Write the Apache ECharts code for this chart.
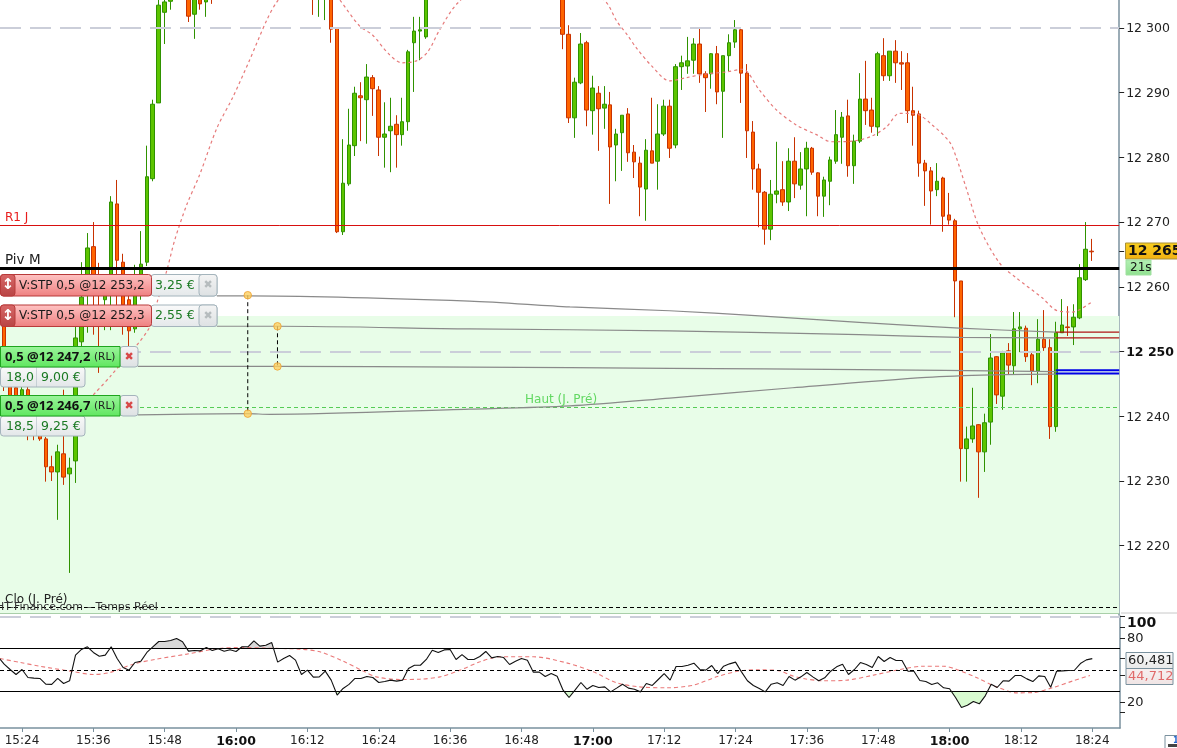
<!DOCTYPE html>
<html>
<head>
<meta charset="utf-8">
<style>html,body{margin:0;padding:0;background:#fff;overflow:hidden}#c{width:1177px;height:748px}</style>
<script src="https://cdn.jsdelivr.net/npm/echarts@6/dist/echarts.min.js"></script>
</head>
<body>
<div id="c"></div>
<script>
// minute-of-day of the first candle (15:20), one candle per minute
const firstMinute = 920;
const opens = [null,12254.6,12247.2,12244.4,12239.4,12244.1,12241,12238.7,12236.5,12232.2,
12231.4,12234.2,12231.1,12233.1,12251.5,12259.5,12266.2,12261.8,12258,12259.5,
12272.8,12263.8,12258,12253.5,12258.7,12263.8,12276.7,12288.4,12302.4,12304.1,
null,null,12306.6,12302.1,12305.1,12304,12305.8,null,null,null,
null,null,null,null,null,null,null,null,null,null,
null,null,null,12307.4,12305.1,12304.8,12305.5,12300,12268.5,12275.9,
12281.8,12289.5,12288.9,12292.3,12290.4,12283.1,12284.1,12285.1,12283.5,12285.5,
12297.7,12299.5,12298.6,null,null,null,null,null,null,null,
null,null,null,null,null,null,null,null,null,null,
null,null,null,null,null,12306.6,12299,12286.1,12291.5,12297.7,
12287.2,12289.9,12287.6,12288.1,12281.9,12283.8,12286.7,12280.8,12279.1,12275.1,
12281,12279.4,12283.6,12287.9,12281.9,12294,12294.1,12295,12297.5,12292.9,
12292.9,12296,12290.2,12295.7,12297.8,12299.7,12293,12283.9,12278.2,12274.6,
12268.9,12274.3,12275,12273.1,12279.4,12275.7,12278.2,12281.4,12277.6,12274,
12276.3,12279.4,12283.1,12286.4,12278.7,12282.5,12289,12287.3,12284.7,12295.7,
12292.6,12296.4,12294.6,12294.6,12287.2,12286.7,12279.1,12277.9,12275,12276.8,
12271.1,12270.2,12260.9,12235,12236.5,12238.7,12234.5,12239.1,12249.2,12243.1,
12250.1,12247.8,12253.5,12253.6,12249.5,12247,12251.9,12250.6,12238.4,12252.9,
12253.8,12253.8,12255.2,12261.1,12265.5];
const closes = [null,12246.4,12242.8,12241,12244.1,12240.2,12238.7,12236.5,12232.2,12231.4,
12234.5,12230.6,12232,12252.1,12258.4,12266,12259.5,12258.7,12261.1,12273.1,
12264.1,12257.2,12253.2,12258.7,12263.5,12277,12288.2,12303.5,12304,12305.2,
null,null,12301.8,12305.5,12303.7,12305.2,12304.9,null,null,null,
null,null,null,null,null,null,null,null,null,null,
null,null,null,12305.2,12306.6,12306.2,12299.8,12268.5,12276,12281.9,
12289.9,12289.2,12292.4,12290.6,12283.1,12283.6,12284.8,12283.5,12285.5,12296.3,
12299.5,12299.7,12305.5,null,null,null,null,null,null,null,
null,null,null,null,null,null,null,null,null,null,
null,null,null,null,null,12299,12286.1,12291.6,12297.5,12287.3,
12290.7,12287.5,12288.2,12281.6,12283.6,12286.5,12280.7,12279.3,12275.4,12281.1,
12279.1,12283.6,12287.9,12281.4,12294,12294.6,12294.9,12297.5,12292.9,12292.3,
12296,12290.1,12295.7,12297.7,12299.7,12293,12284.1,12278.2,12274.6,12268.9,
12274.3,12274.8,12273.1,12279.4,12275.9,12278.2,12281.4,12277.7,12274,12276.5,
12279.6,12283.5,12286.2,12278.7,12282.5,12289,12287.2,12284.8,12296,12292.6,
12296.4,12294.6,12294.4,12287.2,12286.5,12279.1,12277.9,12274.8,12276.3,12270.9,
12270.3,12260.9,12235,12236.5,12238.5,12234.5,12239,12249,12243.3,12249.8,
12247.9,12253.5,12253.8,12249.2,12247,12251.9,12250.6,12238.4,12252.9,12254.1,
12253.7,12255.3,12261.4,12265.8,12265.4];
const lows = [null,12243.9,12239.4,12237.9,12238.2,12236.3,12236.3,12236.2,12229.9,12230,
12224,12229.4,12215.8,12229.7,12250.2,12252.9,12252.6,12246.7,12253.3,12253.3,
12257.2,12252.6,12250.7,12252.9,12258,12263.2,12276.3,12288.4,12297.5,12302.8,
null,null,12300.9,12298.3,12302.8,12301.7,12303.7,null,null,null,
null,null,null,null,null,null,null,null,null,null,
null,null,null,12302,12301.7,12301.2,12297.7,12268.3,12268,12275.6,
12280.2,12282.5,12282.1,12286.4,12280.2,12278.4,12277.7,12278.4,12281.8,12284.1,
12290.1,12295,12298.3,null,null,null,null,null,null,null,
null,null,null,null,null,null,null,null,null,null,
null,null,null,null,null,12296.7,12285.3,12283,12291.3,12284.8,
12283.5,12281,12284.4,12272.8,12276.3,12277.9,12279.3,12276.8,12270.9,12270.2,
12279.1,12275,12283.3,12279.9,12281.4,12290.4,12292.9,12292.9,12291.5,12287,
12290.6,12288.2,12283,12293.3,12296.9,12288.4,12279.9,12275,12269.2,12266.5,
12267.2,12272.9,12272.5,12271.7,12273.7,12275,12270.9,12277.3,12270.9,12270.8,
12272.6,12279,12279,12277,12275.9,12282.2,12285,12283.8,12283.3,12291.8,
12291.8,12291.5,12290.4,12285.3,12281.8,12277,12272.5,12269.6,12274,12268.5,
12269.6,12255.3,12229.9,12229.9,12235.9,12227.4,12231.4,12235.6,12241.9,12241,
12246.4,12246.4,12249.9,12248.4,12244.8,12245.1,12250.1,12236.5,12237.6,12252.9,
12252.4,12251,12255,12260.9,12264];
const highs = [null,12255.7,12247.9,12244.8,12244.8,12244.8,12242.5,12241,12236.8,12233.9,
12235.6,12244.1,12233.6,12253.8,12263.8,12268.3,12270,12263.7,12261.8,12274,
12276.5,12265.1,12260.3,12263.4,12268.6,12281.8,12288.9,12305.1,12305.1,12305.8,
null,null,12307.4,12306.2,12305.7,12305.8,12306.2,null,null,null,
null,null,null,null,null,null,null,null,null,null,
null,null,null,12308,12307.1,12306.6,12306.2,12300.1,12282.8,12287.5,
12290.9,12291.6,12294.4,12292.7,12291,12288.5,12289.2,12286.5,12289.2,12296.6,
12301.7,12301.7,12306.2,null,null,null,null,null,null,null,
null,null,null,null,null,null,null,null,null,null,
null,null,null,null,null,12307.4,12300.4,12292.3,12299.2,12298,
12292.6,12291,12291,12290.1,12284.4,12286.5,12287.6,12281.9,12280.1,12282.8,
12289.2,12288.2,12288.9,12288.9,12294.4,12295.7,12298.6,12298.4,12300,12293.3,
12296.1,12297.2,12295.7,12299,12301.2,12300.1,12294.4,12285.6,12279,12274.8,
12276.5,12282.4,12279.4,12281.4,12283.1,12280.8,12282.4,12281.6,12277.7,12277,
12280.1,12287.3,12287,12288.9,12283.5,12293,12294.9,12289.2,12296.3,12298.4,
12296.4,12298.1,12296.4,12296.1,12290.9,12287.2,12279.6,12278.5,12279.1,12277,
12274.5,12270.5,12260.9,12238.4,12244.4,12238.8,12240.4,12252.7,12249.3,12250.1,
12251.3,12256.1,12256.1,12254,12249.8,12255,12256.4,12251.9,12254.6,12258.1,
12257,12257.3,12263.5,12270,12267.4];

// moving average over the price
const maMinutes = [936,938.8,945.4,946.9,948.4,949.7,951.7,953.9,956.8,959.5,962.3,965.2,966.9,970.8,974.1,977.5,980.8,983,985.6,987.9,990.4,992.3,994.3,997.3,1004.4,1014.5,1022,1024.2,1025.9,1027.4,1030.1,1033,1035.8,1039.2,1042.6,1045.3,1048.1,1051,1054.3,1057.7,1060.2,1063.8,1067.1,1069.5,1071.7,1074.5,1077.2,1080.1,1081.2,1082.9,1085.1,1088.5,1091.3,1095.7,1098,1100.8,1104.1];
const maValues = [12243.3,12246.1,12253.6,12258.1,12262.6,12267.2,12272.6,12277.3,12284.5,12289.3,12295,12301.2,12304,12308.2,12308.2,12304.3,12300.3,12298.9,12296.1,12294.6,12294.9,12296.3,12299.7,12303.8,12308.9,12308.9,12304.3,12300.9,12298.9,12296.9,12294,12291.8,12292.3,12292.9,12293.2,12293.6,12290.4,12287.3,12285,12283.5,12282.4,12282.5,12283.3,12284.7,12286.8,12286.7,12285,12282.4,12280.1,12275.3,12269.2,12263.7,12261.4,12258.3,12256.4,12256.1,12257.7];

// oscillator, one value per candle
const rsiValues = [62.2,55.3,50.3,45.6,50.3,42.8,42.2,41.9,36.6,36.3,41.9,37.2,39.7,63.8,69.1,71.6,66.3,62.8,63.8,71.6,60.6,52.2,49.7,56.9,58.1,66.3,71.6,76.6,76.6,77.5,79.4,76.3,67.5,68.1,67.8,70.9,68.1,69.7,67.5,68.8,67.2,71.6,71.6,77.2,72.2,73.1,75.6,57.2,60.6,63.4,59.1,45.6,49.7,43.1,43.4,48.8,40.3,26.3,32.5,36.3,41.9,41.9,43.8,42.8,38.1,39.1,40.3,39.4,
40.3,51.2,54.3,54.3,59.7,68.4,66.2,68.7,69,59.7,64.3,59.7,59.7,62.5,67.2,61.2,62.5,61.5,55,58.1,60.6,59,47.8,47.8,43.7,46.5,44,30.9,24,30.9,38.1,31.8,35.3,33.4,34,29.3,32.8,36.5,32.8,31.8,29.3,37.2,35.3,40.9,46.5,40.3,53.1,53.1,54.3,56.2,50.3,49.7,54,46.5,53.4,55.6,57.2,48.1,39.7,35.3,32.5,29.3,36.5,37.8,35.3,43.7,40.3,
43.4,47.5,43.4,39.7,42.5,48.7,52.8,55.3,45.6,50.3,56.8,55,52.2,62.5,57.8,61.5,58.7,58.7,48.7,48.7,40,39,36.2,37.8,33.1,32.2,24,14.7,16.8,20.3,18.1,25.6,36.5,33.4,39.7,39.4,44.6,44.6,41.5,39,44.3,43.7,33.7,48.7,49,49.3,49.6,55.9,59.3,60.5];
const rsiMaMinutes = [920.3,923.7,927,932.1,936,938.8,942.7,946.6,951.7,956.7,960.7,965.1,970.7,974.1,978,981.4,983.6,987.6,990.9,994.3,997.7,1001,1004.4,1010,1015.6,1020.1,1024,1027.9,1032.4,1036.9,1040.8,1044.7,1048.1,1051.5,1053.2,1055.4,1058.8,1062.7,1067.2,1071.7,1075.6,1079,1081.2,1084.6,1087.9,1091.3,1094.1,1097.4,1100.8,1103.6];
const rsiMaValues = [60.6,56.9,53.4,48.8,45.6,47.5,55.3,60,64.7,69.7,71,70.3,69.4,66.9,58.1,48.8,43.4,40.9,41.2,43.4,49.7,57.5,62.2,62.2,56.5,48.1,37.8,34,33.1,35.6,43.4,49,50,49,45,41.8,39.7,40.3,45,50.3,53.4,53.4,50.3,42.5,34,28.4,28.7,33.4,39.7,44.7];

// price levels
const r1Level = 12269.5, pivotLevel = 12262.9, highPrevLevel = 12241.4, closePrevLevel = 12210.5;
const bandTop = 12255.5, bandBottom = 12209.6;
const priceGridLevels = [12300, 12250];
const stopLevels = [12253, 12252.1], limitLevels = [12247.1, 12246.6];
const linkStart = 1098, plotEndMinute = 1108.66, plotStartMinute = 920.3;

// order link curves
const stopACurveM = [956.8,962,999.3,1016.2,1033,1048.1,1064.9,1081.8,1098];
const stopACurveP = [12258.6,12258.6,12257.8,12256.9,12256.3,12255.5,12254.5,12253.6,12253];
const stopBCurveM = [956.8,967,999.3,1033,1064.9,1081.8,1098];
const stopBCurveP = [12253.9,12253.9,12253.5,12253.2,12252.6,12252.2,12252.1];
const limitACurveM = [943.5,967,999.3,1033,1064.9,1098];
const limitACurveP = [12247.7,12247.7,12247.6,12247.4,12247.2,12246.9];
const limitBCurveM = [943.5,962,965.7,999.3,1016.2,1033,1053.7,1076.2,1087.3,1098];
const limitBCurveP = [12240.2,12240.4,12240.3,12241.1,12241.6,12242.8,12244.4,12246,12246.4,12246.5];

// drag handles on the curves
const handleMinutes = [962,967,967,962];
const handlePrices = [12258.7,12253.9,12247.7,12240.4];

// axes
const timeTicks = [924,936,948,960,972,984,996,1008,1020,1032,1044,1056,1068,1080,1092,1104];
const boldTimes = [960,1020,1080];
const priceTicks = [12220,12230,12240,12250,12260,12270,12280,12290,12300];
const lastPrice = 12265.5, lastRsi = 60.5, lastRsiMa = 44.7;
const rsiLabels = [100,80,20];
const rsiTicks = [100,90,80,60.5,44.7,20,10];
const rsiLevels = [70,50,30];

const pairs = (m, p) => m.map((v, i) => [v, p[i]]);
const candles = [];
opens.forEach((o, i) => { if (o !== null) candles.push([firstMinute + i, o, closes[i], lows[i], highs[i]]); });
const rsiLine = rsiValues.map((v, i) => [firstMinute + i, v]);

// portion of the oscillator beyond a level, with the crossing points found
function beyond(level, above, fromMinute) {
  const out = [];
  for (let i = 0; i < rsiLine.length; i++) {
    const [m, v] = rsiLine[i];
    if (m < fromMinute) continue;
    if (i > 0) {
      const [m0, v0] = rsiLine[i - 1];
      if ((v0 - level) * (v - level) < 0) out.push([m0 + (level - v0) / (v - v0) * (m - m0), level]);
    }
    out.push([m, above ? Math.max(v, level) : Math.min(v, level)]);
  }
  return out;
}

const RED = '#d80f0f', AXIS = '#7a919e', TXT = '#222', FONT = '"DejaVu Sans"';
const GREEN_TXT = '#1b7a23';
const lg = (a, b) => new echarts.graphic.LinearGradient(0, 0, 0, 1, [{offset: 0, color: a}, {offset: 1, color: b}]);
const g = [];
const rect = (x, y, w, h, fill, stroke, r) => g.push({type: 'rect', z: 100, shape: {x, y, width: w, height: h, r: r || 0}, style: {fill, stroke: stroke || null, lineWidth: stroke ? 1 : 0}});
const text = (x, y, s, font, fill, align) => g.push({type: 'text', z: 101, x, y, style: {text: s, font, fill, textAlign: align || 'left', textVerticalAlign: 'middle'}});

// free chart labels
text(5, 218, 'R1 J', '12px ' + FONT, '#e81c1c');
text(5, 260, 'Piv M', '13.5px ' + FONT, TXT);
text(525, 400, 'Haut (J. Pré)', '12px ' + FONT, '#62d862');
text(5, 600, 'Clo (J. Pré)', '12px ' + FONT, TXT);
text(-4, 607, 'HT-Finance.com – Temps Réel', '11px ' + FONT, '#333');

function stopTag(y, label, gain) {
  rect(151, y, 66, 21.5, lg('#fafafa', '#e4e8ea'), '#a4b4bc', 3);
  rect(199, y, 18, 21.5, lg('#f4f4f4', '#dde1e3'), '#a4b4bc', 3);
  rect(0.5, y, 151, 21.5, lg('#ffc4c4', '#ee7f7f'), '#b83a3a', 3);
  rect(0.5, y, 14.5, 21.5, lg('#d86868', '#b84444'), '#b83a3a', 3);
  text(8, y + 11, '↕', 'bold 15px ' + FONT, '#fff', 'center');
  text(19, y + 11, label, '12px ' + FONT, '#1a1a1a');
  text(155, y + 11, gain, '12.5px ' + FONT, GREEN_TXT);
  text(208, y + 11, '✖', '11px ' + FONT, '#b6bcbe', 'center');
}
function limitTag(y, label, pts, gain) {
  rect(0.5, y + 20.5, 84.5, 20, lg('#fafafa', '#e2e6e8'), '#a4b4bc', 3);
  rect(36.5, y + 20.5, 0.5, 20, '#a4b4bc');
  rect(120, y, 18, 20.5, lg('#f4f4f4', '#dde1e3'), '#a4b4bc', 3);
  rect(0.5, y, 119.5, 20.5, lg('#9cf59c', '#5fe65f'), '#1ea51e', 0);
  text(5, y + 10.5, label, 'bold 13px "Noto Sans"', '#111');
  text(94, y + 10.5, '(RL)', '10.5px ' + FONT, '#222');
  text(129, y + 10.5, '✖', '11px ' + FONT, '#d84848', 'center');
  text(6, y + 31, pts, '12.5px ' + FONT, GREEN_TXT);
  text(41, y + 31, gain, '12.5px ' + FONT, GREEN_TXT);
}
stopTag(274.5, 'V:STP 0,5 @12 253,2', '3,25 €');
stopTag(305, 'V:STP 0,5 @12 252,3', '2,55 €');
limitTag(346.5, '0,5 @12 247,2', '18,0', '9,00 €');
limitTag(395.5, '0,5 @12 246,7', '18,5', '9,25 €');

// right-hand value boxes
rect(1125.5, 243, 52, 16, lg('#f8d020', '#f2b010'), '#a89038');
text(1128, 251.5, '12 265,5', 'bold 14px ' + FONT, '#111');
rect(1126, 260, 25, 15, lg('#b4f0b4', '#90e090'), '#a0e0a0');
text(1130, 267.5, '21s', '12px ' + FONT, '#111');
rect(1126, 652.5, 47, 16, lg('#fafafa', '#e8e8e8'), AXIS);
text(1128, 660.5, '60,481', '13px ' + FONT, TXT);
rect(1126, 668.5, 47, 16, lg('#f8f0f0', '#efe4e4'), AXIS);
text(1128, 676.5, '44,712', '13px ' + FONT, '#e06a6a');
g.push({type: 'line', z: 99, shape: {x1: 1121, y1: 613, x2: 1177, y2: 613}, style: {stroke: '#c8c8c8', lineWidth: 1}});
rect(1165, 735.5, 13, 13, '#fff', AXIS);
text(1173, 741, '1', 'bold 8px ' + FONT, '#2266cc');
rect(1168, 744, 9, 3, '#444');

const markOf = (levels, style) => ({symbol: 'none', silent: true, animation: false, label: {show: false}, lineStyle: style, data: levels.map(v => ({yAxis: v}))});
const dashGrey = {color: '#cbced9', width: 2, type: [21, 9]};

const option = {
  animation: false,
  backgroundColor: '#fff',
  grid: [
    {left: 0, top: 0, width: 1120, height: 615},
    {left: 0, top: 616, width: 1120, height: 113}
  ],
  xAxis: [
    {gridIndex: 0, type: 'value', min: plotStartMinute, max: plotEndMinute, show: false},
    {gridIndex: 1, type: 'value', min: plotStartMinute, max: plotEndMinute, splitLine: {show: false},
      axisLine: {onZero: false, lineStyle: {color: AXIS, width: 1.5}},
      axisTick: {length: 4, customValues: timeTicks, lineStyle: {color: AXIS}},
      axisLabel: {customValues: timeTicks, margin: 7, fontFamily: FONT, fontSize: 12, color: TXT,
        formatter: v => {
          const s = Math.floor(v / 60) + ':' + String(v % 60).padStart(2, '0');
          return boldTimes.includes(v) ? '{b|' + s + '}' : s;
        },
        rich: {b: {fontFamily: FONT, fontSize: 12.5, fontWeight: 'bold', color: '#111'}}}}
  ],
  yAxis: [
    {gridIndex: 0, type: 'value', position: 'right', min: 12209.3, max: 12304.3, splitLine: {show: false},
      axisLine: {show: true, onZero: false, lineStyle: {color: AXIS, width: 1.5}},
      axisTick: {show: true, length: 5, customValues: priceTicks.concat([lastPrice]), lineStyle: {color: '#222'}},
      axisLabel: {customValues: priceTicks, margin: 7, padding: [2, 0, 0, 0], fontFamily: FONT, fontSize: 12.5, color: TXT,
        formatter: v => {
          const s = String(v).slice(0, 2) + ' ' + String(v).slice(2);
          return v === 12250 ? '{b|' + s + '}' : s;
        },
        rich: {b: {fontFamily: FONT, fontSize: 12.5, fontWeight: 'bold', color: '#111'}}}},
    {gridIndex: 1, type: 'value', position: 'right', min: -4.6, max: 100.5, splitLine: {show: false},
      axisLine: {show: true, onZero: false, lineStyle: {color: AXIS, width: 1.5}},
      axisTick: {show: true, length: 5, customValues: rsiTicks, lineStyle: {color: '#222'}},
      axisLabel: {customValues: rsiLabels, margin: 7, padding: [2, 0, 0, 0], fontFamily: FONT, fontSize: 13, color: TXT,
        formatter: v => v === 100 ? '{b|100}' : String(v),
        rich: {b: {fontFamily: FONT, fontSize: 14, fontWeight: 'bold', color: '#111', padding: [12, 0, 0, 0]}}}}
  ],
  series: [
    {name: 'band', type: 'line', xAxisIndex: 0, yAxisIndex: 0, data: [], z: 1,
      markArea: {silent: true, itemStyle: {color: '#e8fde8'}, data: [[{yAxis: bandTop}, {yAxis: bandBottom}]]}},
    {name: 'candles', type: 'candlestick', xAxisIndex: 0, yAxisIndex: 0, z: 2, barWidth: 4,
      encode: {x: 0, y: [1, 2, 3, 4]}, data: candles,
      itemStyle: {color: '#5cc400', color0: '#ff6400', borderColor: '#2f9200', borderColor0: '#c83200', borderWidth: 1}},
    {name: 'grid levels', type: 'line', xAxisIndex: 0, yAxisIndex: 0, data: [], z: 3,
      markLine: markOf(priceGridLevels, dashGrey)},
    {name: 'levels', type: 'line', xAxisIndex: 0, yAxisIndex: 0, data: [], z: 5,
      markLine: {symbol: 'none', silent: true, label: {show: false}, data: [
        {yAxis: r1Level, lineStyle: {color: RED, width: 1, type: 'solid'}},
        {yAxis: pivotLevel, lineStyle: {color: '#000', width: 3, type: 'solid'}},
        {yAxis: highPrevLevel, lineStyle: {color: '#55cc55', width: 1, type: [4, 3]}},
        {yAxis: closePrevLevel, lineStyle: {color: '#000', width: 1, type: [4, 3]}},
        {yAxis: bandBottom, lineStyle: {color: '#a9cfa9', width: 1, type: 'solid'}}
      ]}},
    {name: 'ma', type: 'line', xAxisIndex: 0, yAxisIndex: 0, z: 4, symbol: 'none', smooth: 0.3,
      data: pairs(maMinutes, maValues), lineStyle: {color: '#e67a7a', width: 1.2, type: [3, 3]}},
    ...[[stopACurveM, stopACurveP], [stopBCurveM, stopBCurveP], [limitACurveM, limitACurveP], [limitBCurveM, limitBCurveP]].map((c, i) => ({
      name: 'link' + i, type: 'line', xAxisIndex: 0, yAxisIndex: 0, z: 6, symbol: 'none', smooth: 0.3,
      data: pairs(c[0], c[1]), lineStyle: {color: '#8a8a8a', width: 1.2}})),
    ...stopLevels.map((v, i) => ({name: 'stop' + i, type: 'line', xAxisIndex: 0, yAxisIndex: 0, z: 7, symbol: 'none',
      data: [[linkStart, v], [plotEndMinute, v]], lineStyle: {color: '#b01414', width: 1.2}})),
    ...limitLevels.map((v, i) => ({name: 'limit' + i, type: 'line', xAxisIndex: 0, yAxisIndex: 0, z: 7, symbol: 'none',
      data: [[linkStart, v], [plotEndMinute, v]], lineStyle: {color: '#0000e6', width: 2}})),
    {name: 'linkA', type: 'line', xAxisIndex: 0, yAxisIndex: 0, z: 7, symbol: 'none',
      data: [[handleMinutes[0], handlePrices[0]], [handleMinutes[3], handlePrices[3]]], lineStyle: {color: '#000', width: 1, type: [4, 3]}},
    {name: 'linkB', type: 'line', xAxisIndex: 0, yAxisIndex: 0, z: 7, symbol: 'none',
      data: [[handleMinutes[1], handlePrices[1]], [handleMinutes[2], handlePrices[2]]], lineStyle: {color: '#000', width: 1, type: [4, 3]}},
    {name: 'handles', type: 'scatter', xAxisIndex: 0, yAxisIndex: 0, z: 8, symbolSize: 7.5,
      data: pairs(handleMinutes, handlePrices), itemStyle: {color: '#fcd060', borderColor: '#eea030', borderWidth: 1}},

    {name: 'rsi over', type: 'line', xAxisIndex: 1, yAxisIndex: 1, z: 2, symbol: 'none', lineStyle: {width: 0},
      data: beyond(rsiLevels[0], true, 940), areaStyle: {color: '#d9d9d9', opacity: 1, origin: rsiLevels[0]}},
    {name: 'rsi under', type: 'line', xAxisIndex: 1, yAxisIndex: 1, z: 2, symbol: 'none', lineStyle: {width: 0},
      data: beyond(rsiLevels[2], false, 920), areaStyle: {color: '#d8fbd0', opacity: 1, origin: rsiLevels[2]}},
    {name: 'rsi levels', type: 'line', xAxisIndex: 1, yAxisIndex: 1, data: [], z: 3,
      markLine: {symbol: 'none', silent: true, label: {show: false}, data: [
        {yAxis: rsiLevels[0], lineStyle: {color: '#000', width: 1, type: 'solid'}},
        {yAxis: rsiLevels[1], lineStyle: {color: '#000', width: 1, type: [4, 3]}},
        {yAxis: rsiLevels[2], lineStyle: {color: '#000', width: 1, type: 'solid'}},
        {yAxis: 100, lineStyle: dashGrey}
      ]}},
    {name: 'rsi ma', type: 'line', xAxisIndex: 1, yAxisIndex: 1, z: 4, symbol: 'none', smooth: 0.3,
      data: pairs(rsiMaMinutes, rsiMaValues), lineStyle: {color: '#ea7a7a', width: 1.1, type: [4, 3]}},
    {name: 'rsi', type: 'line', xAxisIndex: 1, yAxisIndex: 1, z: 5, symbol: 'none',
      data: rsiLine, lineStyle: {color: '#111', width: 1.1}}
  ],
  graphic: {elements: g}
};
echarts.init(document.getElementById('c'), null, {renderer: 'canvas'}).setOption(option);
</script>
</body>
</html>
